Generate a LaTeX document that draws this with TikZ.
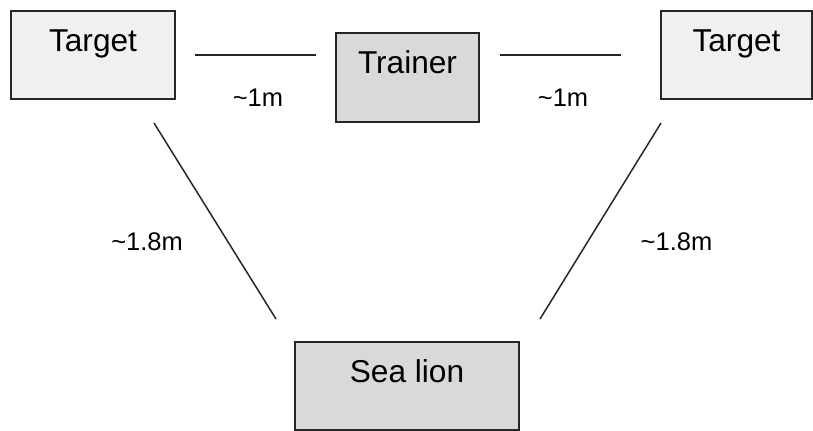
\documentclass[tikz,border=0pt]{standalone}
\usepackage{fontspec}
\setmainfont{Liberation Sans}
\usepackage{tikz}
\tikzstyle{lightbox} = [rectangle, minimum width=3.28cm, minimum height=1.76cm, inner sep=0pt, text height=0.45cm, text depth=0.6cm, text centered, draw=black!85, line width=0.85pt, fill=black!6, font=\fontsize{18}{20}\selectfont]
\tikzstyle{darkbox} = [lightbox, fill=black!15]
\tikzstyle{line} = [draw=black!85, line width=0.85pt]
\tikzstyle{dist} = [font=\fontsize{14.5}{17}\selectfont]

\begin{document}
\begin{tikzpicture}[x=0.02cm, y=-0.02cm]
\useasboundingbox (0,0) rectangle (813,431);
\node (targetL) [lightbox] at (93,55) {Target};
\node (trainer) [darkbox, minimum width=2.86cm, minimum height=1.78cm] at (407.5,77.5) {Trainer};
\node (targetR) [lightbox, minimum width=3.02cm] at (736.5,55) {Target};
\node (sealion) [darkbox, minimum width=4.48cm] at (407,386) {Sea lion};
\draw [line, shorten <=0.38cm, shorten >=0.38cm] (targetL.east) -- node[dist, midway, yshift=-0.86cm, xshift=0.05cm] {\textasciitilde1m} (targetL.east -| trainer.west);
\draw [line, shorten <=0.4cm, shorten >=0.78cm] (trainer.east |- targetR.west) -- node[dist, midway, yshift=-0.86cm, xshift=-0.14cm] {\textasciitilde1m} (targetR.west);
\coordinate (footL) at (154,123);
\coordinate (headL) at (276,319);
\coordinate (footR) at (661,123);
\coordinate (headR) at (540,319);
\draw [line] (footL) -- node[dist, midway, xshift=-1.36cm, yshift=-0.42cm] {\textasciitilde1.8m} (headL);
\draw [line] (footR) -- node[dist, midway, xshift=1.52cm, yshift=-0.42cm] {\textasciitilde1.8m} (headR);
\end{tikzpicture}
\end{document}
